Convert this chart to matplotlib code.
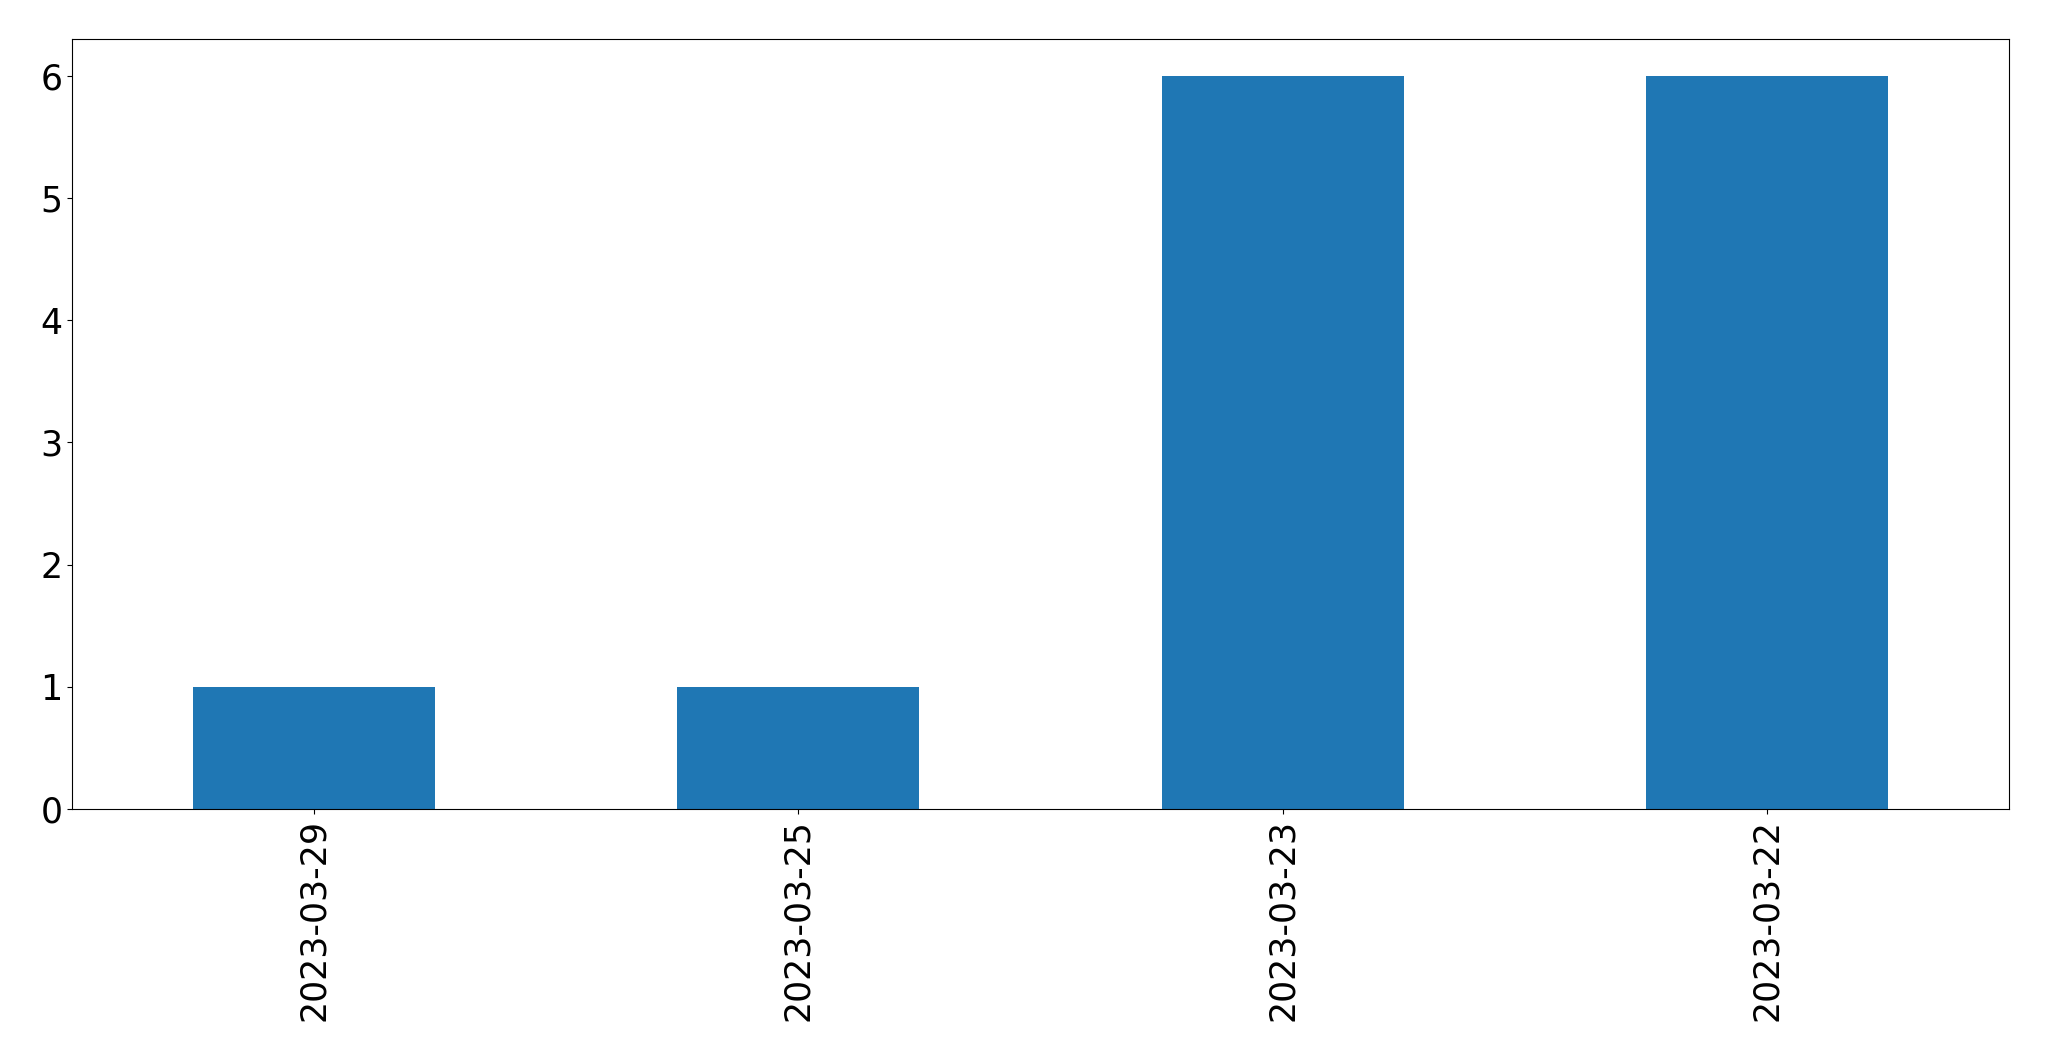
import matplotlib
matplotlib.use("Agg")
import matplotlib.pyplot as plt
import pandas as pd

dates = ["2023-03-29", "2023-03-25", "2023-03-23", "2023-03-22"]
counts = [1, 1, 6, 6]

series = pd.Series(counts, index=dates)

fig, ax = plt.subplots(figsize=(20.49, 10.61), dpi=100)
series.plot(kind="bar", ax=ax, color="#1f77b4")
ax.tick_params(axis="both", labelsize=25)

fig.subplots_adjust(left=72 / 2049, right=2009 / 2049, top=1 - 39 / 1061, bottom=1 - 809 / 1061)
fig.savefig("out.png", dpi=100, facecolor="white")
